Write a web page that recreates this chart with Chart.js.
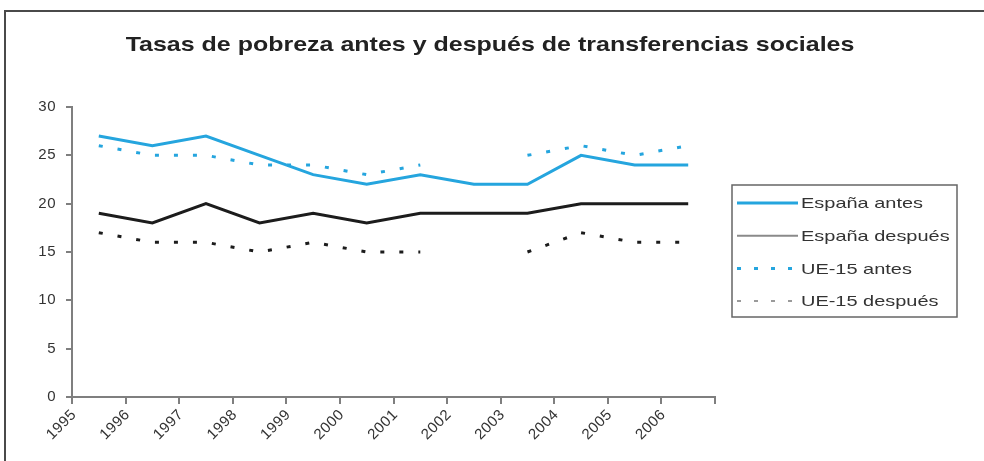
<!DOCTYPE html>
<html>
<head>
<meta charset="utf-8">
<script src="https://cdn.jsdelivr.net/npm/chart.js@4"></script>
<style>
  html, body { margin: 0; padding: 0; background: #fff; }
  #wrap { position: relative; width: 984px; height: 461px; }
</style>
</head>
<body>
<div id="wrap"><canvas id="chart" width="984" height="461"></canvas></div>
<script>
const years = ['1995', '1996', '1997', '1998', '1999', '2000', '2001', '2002', '2003', '2004', '2005', '2006'];
const espanaAntes = [27, 26, 27, 25, 23, 22, 23, 22, 22, 25, 24, 24];
const espanaDespues = [19, 18, 20, 18, 19, 18, 19, 19, 19, 20, 20, 20];
const ue15Antes = [26, 25, 25, 24, 24, 23, 24, null, 25, 26, 25, 26];
const ue15Despues = [17, 16, 16, 15, 16, 15, 15, null, 15, 17, 16, 16];
const yTicks = [0, 5, 10, 15, 20, 25, 30];
const seriesNames = ['España antes', 'España después', 'UE-15 antes', 'UE-15 después'];

const chartTitle = 'Tasas de pobreza antes y después de transferencias sociales';
const blue = '#25a5de';
const black = '#1c1c1c';
const axisGrey = '#7f7f7f';
const textColor = '#333333';
const fontFamily = '"Liberation Sans", Arial, sans-serif';

// plot area in the reference
const plotLeft = 72, plotRight = 715, plotTop = 107, plotBottom = 397;
const catWidth = (plotRight - plotLeft) / years.length;

// legend swatches differ from the series in the original
const legendStyles = [
    { color: blue, width: 3, dash: [] },
    { color: '#8a8a8a', width: 2, dash: [] },
    { color: blue, width: 3, dash: [4, 13] },
    { color: '#9a9a9a', width: 2, dash: [4, 13] }
];

// the original picture is stretched sideways, so its text is wide
function wideText(ctx, text, x, y, stretch) {
    ctx.save();
    ctx.translate(x, y);
    ctx.scale(stretch, 1);
    ctx.fillText(text, 0, 0);
    ctx.restore();
}

const framePlugin = {
    id: 'frameAndTitle',
    beforeDraw(chart) {
        const ctx = chart.ctx;
        ctx.save();
        ctx.strokeStyle = '#4a4a4a';
        ctx.lineWidth = 2;
        ctx.beginPath();
        ctx.moveTo(5, 461);
        ctx.lineTo(5, 11);
        ctx.lineTo(984, 11);
        ctx.stroke();
        ctx.fillStyle = '#222';
        ctx.font = 'bold 21px ' + fontFamily;
        ctx.textAlign = 'center';
        ctx.textBaseline = 'middle';
        wideText(ctx, chartTitle, 490, 45, 1.19);
        ctx.restore();
        ctx.letterSpacing = '0.5px';
    }
};

const legendPlugin = {
    id: 'boxLegend',
    afterDraw(chart) {
        const ctx = chart.ctx;
        ctx.save();
        ctx.letterSpacing = '0px';
        ctx.strokeStyle = '#666';
        ctx.lineWidth = 1.5;
        ctx.strokeRect(732, 185, 225, 132);
        ctx.font = '15px ' + fontFamily;
        ctx.textBaseline = 'middle';
        ctx.textAlign = 'left';
        seriesNames.forEach((name, i) => {
            const y = 203 + i * 32.7;
            const st = legendStyles[i];
            ctx.strokeStyle = st.color;
            ctx.lineWidth = st.width;
            ctx.setLineDash(st.dash);
            ctx.beginPath();
            ctx.moveTo(737, y);
            ctx.lineTo(798, y);
            ctx.stroke();
            ctx.setLineDash([]);
            ctx.fillStyle = textColor;
            wideText(ctx, name, 801, y + 1, 1.33);
        });
        ctx.restore();
    }
};

const ctx = document.getElementById('chart').getContext('2d');
new Chart(ctx, {
    type: 'line',
    data: {
        labels: years,
        datasets: [
            { label: seriesNames[0], data: espanaAntes, borderColor: blue, borderWidth: 3, pointRadius: 0, tension: 0 },
            { label: seriesNames[1], data: espanaDespues, borderColor: black, borderWidth: 3, pointRadius: 0, tension: 0 },
            { label: seriesNames[2], data: ue15Antes, borderColor: blue, borderWidth: 3, borderDash: [4, 15], pointRadius: 0, spanGaps: false },
            { label: seriesNames[3], data: ue15Despues, borderColor: black, borderWidth: 3, borderDash: [4, 15], pointRadius: 0, spanGaps: false }
        ]
    },
    options: {
        responsive: false,
        animation: false,
        layout: { padding: { left: 0, right: 984 - plotRight, top: plotTop, bottom: 0 } },
        plugins: {
            legend: { display: false },
            title: { display: false },
            tooltip: { enabled: false }
        },
        scales: {
            x: {
                type: 'category',
                offset: true,
                grid: { offset: true, drawOnChartArea: false, color: axisGrey, lineWidth: 2, tickLength: 7 },
                border: { color: axisGrey, width: 2 },
                ticks: {
                    color: textColor,
                    font: { size: 15, family: fontFamily },
                    minRotation: 45,
                    maxRotation: 45,
                    labelOffset: -catWidth / 2 + 2,
                    padding: 2
                },
                afterFit: s => { s.height = 461 - plotBottom; }
            },
            y: {
                min: 0,
                max: 30,
                grid: { drawOnChartArea: false, color: axisGrey, lineWidth: 2, tickLength: 6 },
                border: { color: axisGrey, width: 2 },
                ticks: {
                    color: textColor,
                    font: { size: 15, family: fontFamily },
                    stepSize: 5,
                    padding: 10,
                    callback: v => yTicks.includes(v) ? v : ''
                },
                afterFit: s => { s.width = plotLeft; }
            }
        }
    },
    plugins: [framePlugin, legendPlugin]
});
</script>
</body>
</html>
